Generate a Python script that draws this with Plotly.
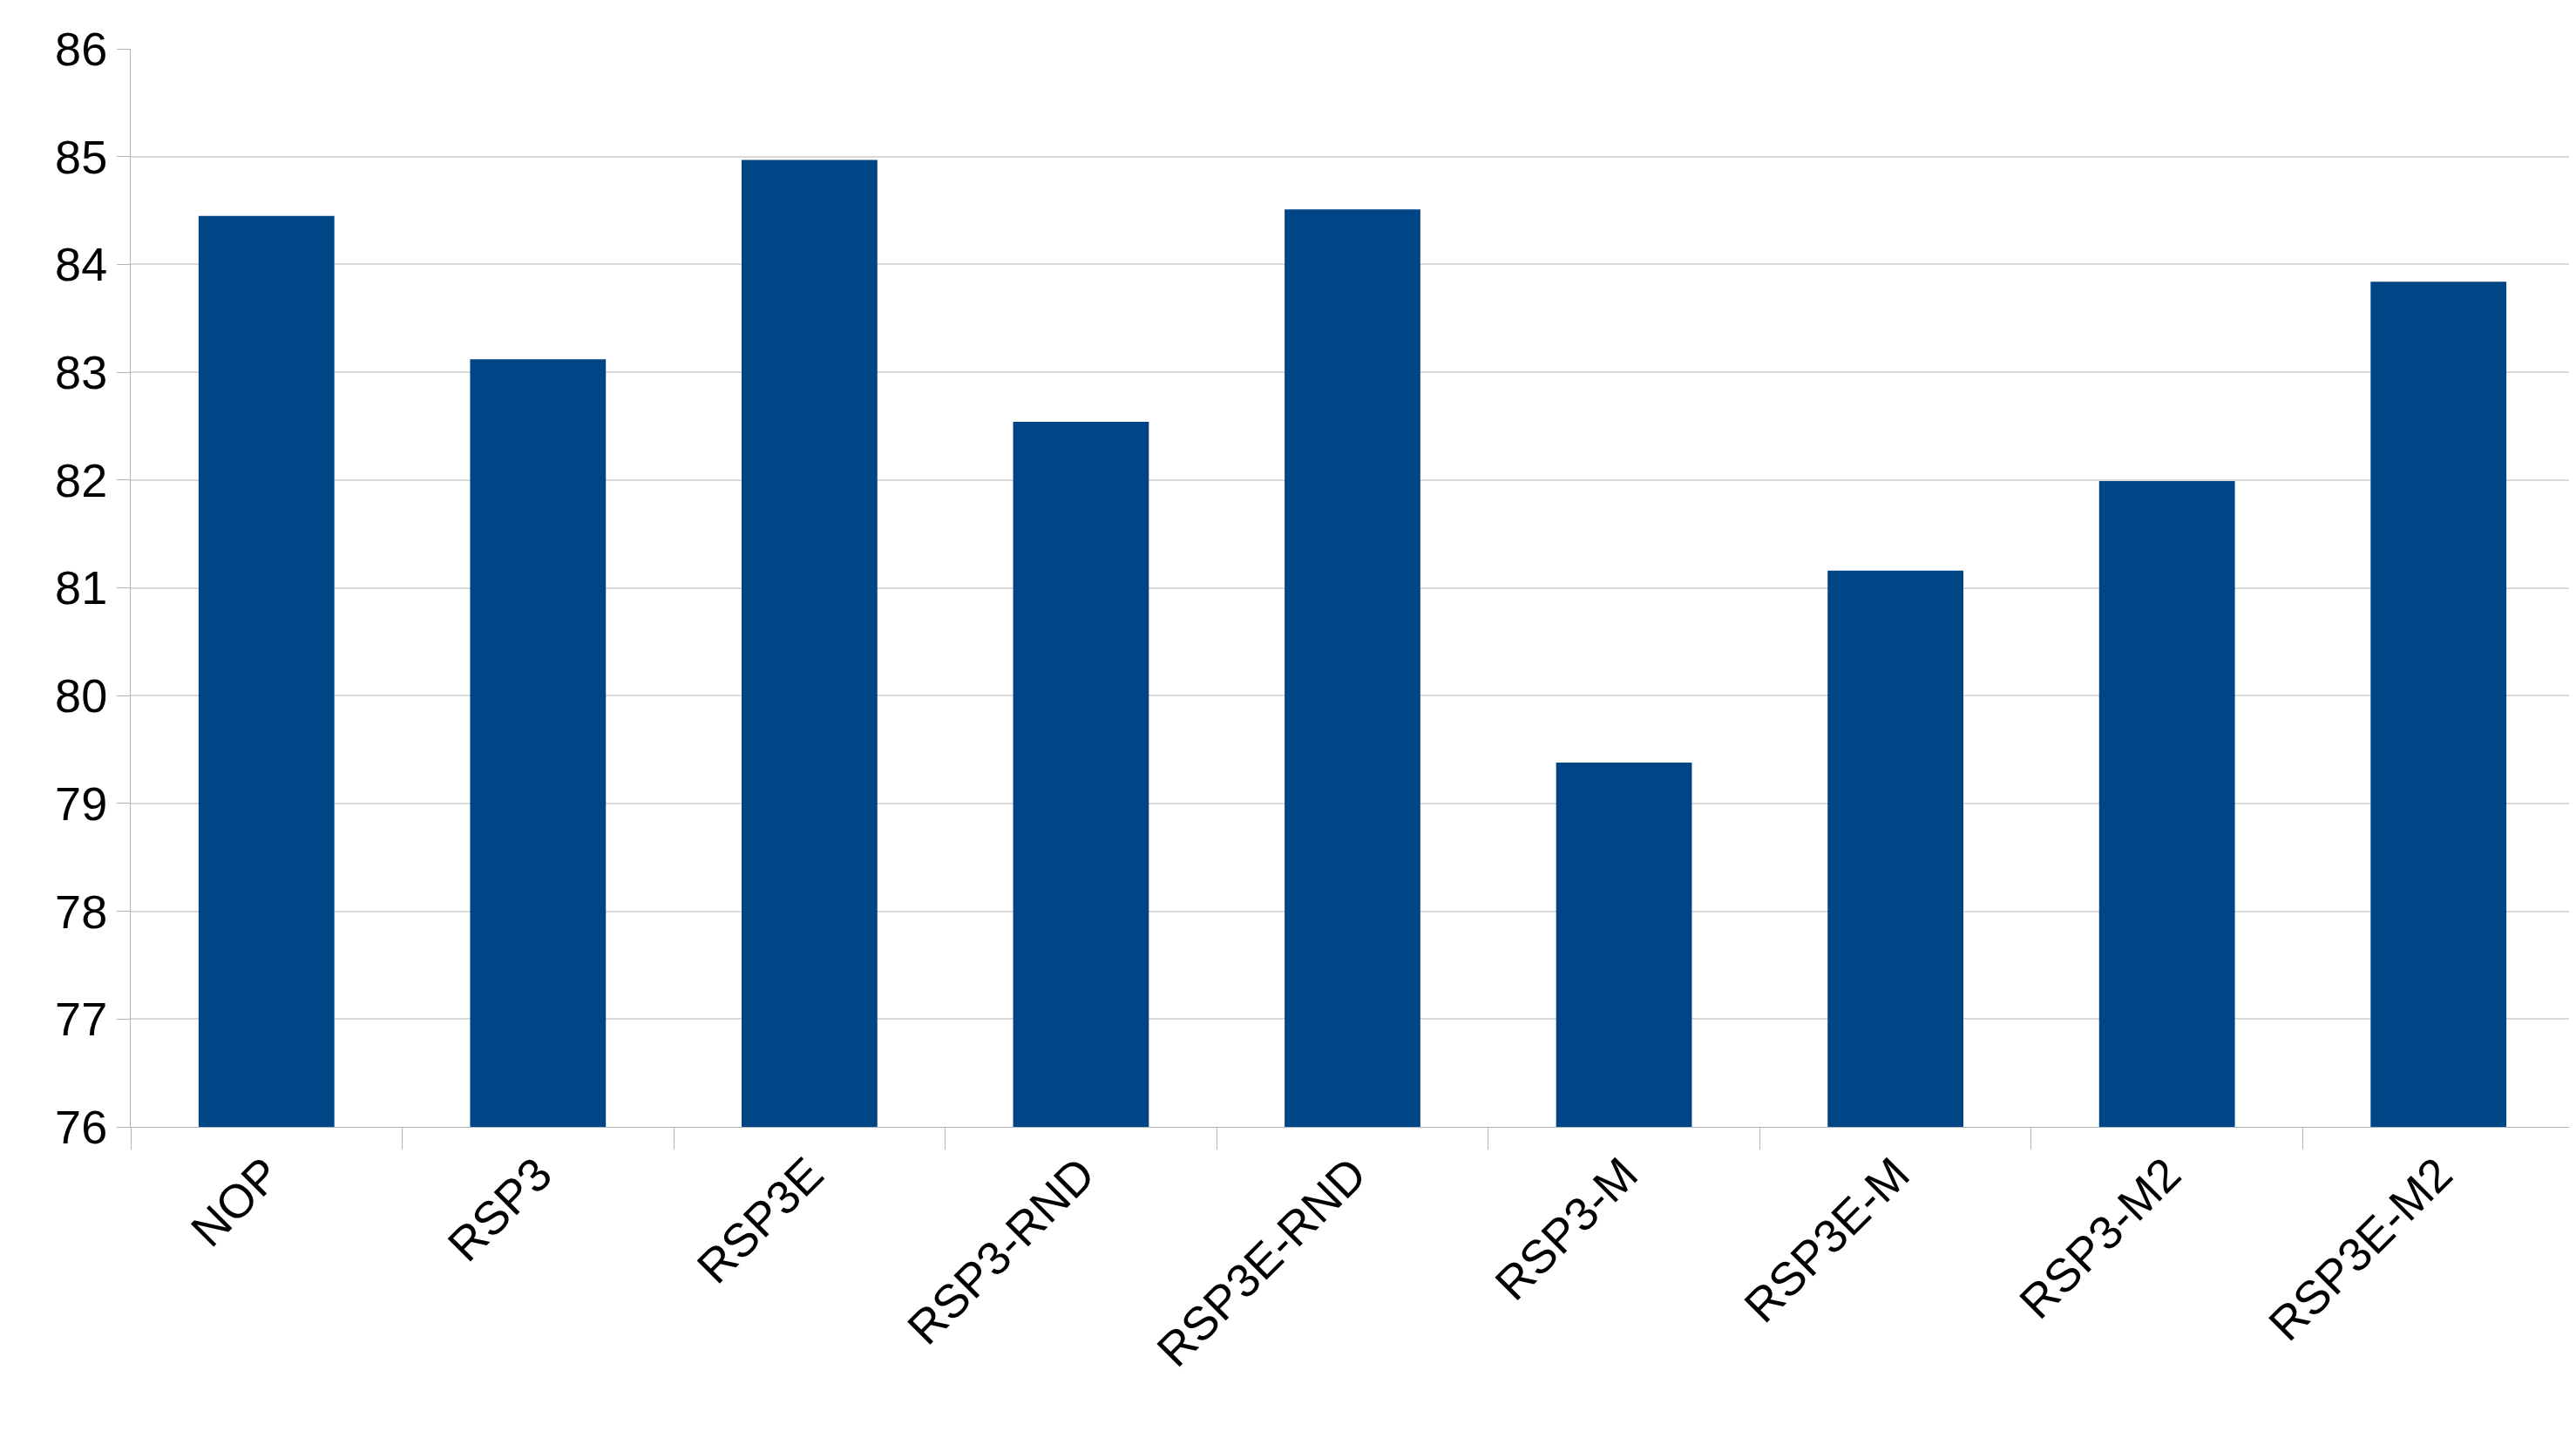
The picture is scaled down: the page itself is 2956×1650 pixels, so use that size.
import plotly.graph_objects as go

categories = ["NOP", "RSP3", "RSP3E", "RSP3-RND", "RSP3E-RND", "RSP3-M", "RSP3E-M", "RSP3-M2", "RSP3E-M2"]
values = [84.45, 83.12, 84.97, 82.54, 84.51, 79.38, 81.16, 81.99, 83.84]
yticks = list(range(76, 87))

fig = go.Figure(go.Bar(x=categories, y=values, marker_color="#004586", marker_line_width=0))
fig.update_layout(
    width=2956, height=1650, plot_bgcolor="white", paper_bgcolor="white",
    margin=dict(l=142, r=10, t=48, b=365), bargap=0.5, showlegend=False,
    font=dict(family="Liberation Sans", size=54, color="black"),
)
fig.update_xaxes(tickangle=-45, tickson="boundaries", ticks="outside", ticklen=25,
                 tickcolor="#b3b3b3", showline=True, linecolor="#b3b3b3", mirror=False,
                 showgrid=False)
fig.update_yaxes(range=[76, 86], tickvals=yticks, showgrid=True, gridcolor="#d9d9d9",
                 gridwidth=2, showline=True, linecolor="#b3b3b3", ticks="outside",
                 ticklen=15, tickcolor="#b3b3b3", zeroline=False)
fig.write_html("out.html")
